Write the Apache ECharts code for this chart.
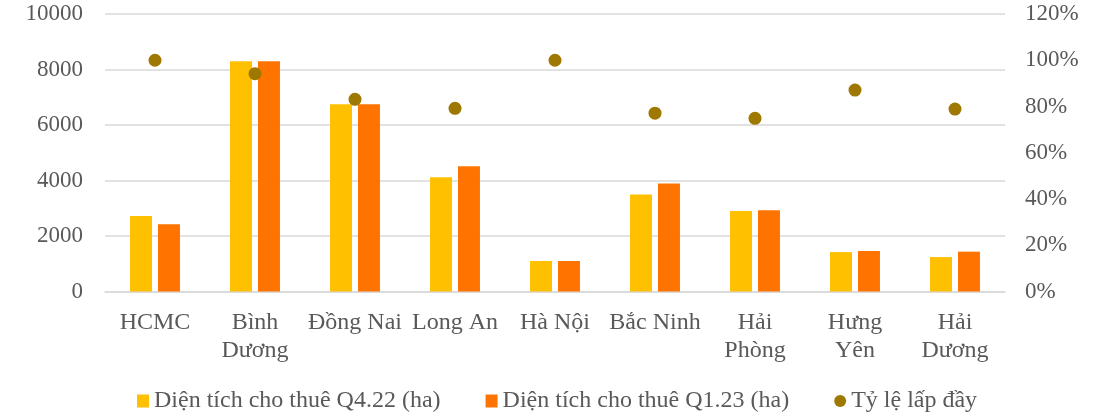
<!DOCTYPE html>
<html>
<head>
<meta charset="utf-8">
<script src="https://cdn.jsdelivr.net/npm/echarts@6/dist/echarts.min.js"></script>
<style>html,body{margin:0;padding:0;background:#fff}#c{width:1100px;height:416px}</style>
</head>
<body>
<div id="c"></div>
<script>
const categories = ['HCMC', 'Bình Dương', 'Đồng Nai', 'Long An', 'Hà Nội', 'Bắc Ninh', 'Hải Phòng', 'Hưng Yên', 'Hải Dương'];
const areaQ422 = [2720, 8300, 6750, 4120, 1100, 3500, 2900, 1420, 1240];
const areaQ123 = [2420, 8300, 6750, 4510, 1100, 3890, 2925, 1460, 1435];
const occupancy = [100, 94.2, 83.1, 79.2, 100, 77.1, 74.9, 87.1, 78.9];
const leftTicks = {min: 0, max: 10000, interval: 2000};
const rightTicks = {min: 0, max: 120, interval: 20};
const seriesNames = ['Diện tích cho thuê Q4.22 (ha)', 'Diện tích cho thuê Q1.23 (ha)', 'Tỷ lệ lấp đầy'];

const FONT = 'Liberation Serif';
const TXT = '#595959';
const CAT_FONT = 24;
const WRAP_WIDTH = 97;
const ctx = document.createElement('canvas').getContext('2d');
ctx.font = CAT_FONT + 'px "' + FONT + '"';
function wrapLabel(v) {
  return ctx.measureText(v).width > WRAP_WIDTH ? v.replace(' ', '\n') : v;
}

const chart = echarts.init(document.getElementById('c'), null, {renderer: 'canvas'});
chart.setOption({
  animation: false,
  textStyle: {fontFamily: FONT, color: TXT},
  grid: {left: 105, right: 95, top: 14, bottom: 124.5, containLabel: false},
  legend: {
    left: 137, top: 389, padding: 0,
    itemWidth: 12, itemHeight: 13, itemGap: 45,
    textStyle: {fontFamily: FONT, fontSize: 24, color: TXT},
    data: [
      {name: seriesNames[0], icon: 'rect'},
      {name: seriesNames[1], icon: 'rect'},
      {name: seriesNames[2], icon: 'circle'}
    ]
  },
  xAxis: {
    type: 'category',
    data: categories,
    axisLine: {show: true, lineStyle: {color: '#d9d9d9', width: 1.5}},
    axisTick: {show: false},
    axisLabel: {
      interval: 0, margin: 17, fontFamily: FONT, fontSize: CAT_FONT, color: TXT,
      lineHeight: 28, align: 'center', formatter: wrapLabel
    }
  },
  yAxis: [
    {
      type: 'value', min: leftTicks.min, max: leftTicks.max, interval: leftTicks.interval,
      axisLine: {show: false}, axisTick: {show: false},
      axisLabel: {margin: 22, fontFamily: FONT, fontSize: 23, color: TXT, formatter: v => String(v)},
      splitLine: {lineStyle: {color: '#d9d9d9', width: 1.5}}
    },
    {
      type: 'value', min: rightTicks.min, max: rightTicks.max, interval: rightTicks.interval,
      axisLine: {show: false}, axisTick: {show: false},
      axisLabel: {margin: 20, fontFamily: FONT, fontSize: 23, color: TXT, formatter: '{value}%'},
      splitLine: {show: false}
    }
  ],
  series: [
    {name: seriesNames[0], type: 'bar', data: areaQ422, barWidth: 22, barGap: '27%',
     itemStyle: {color: '#FFC000'}},
    {name: seriesNames[1], type: 'bar', data: areaQ123, barWidth: 22, barGap: '27%',
     itemStyle: {color: '#FF7400'}},
    {name: seriesNames[2], type: 'scatter', yAxisIndex: 1, data: occupancy, symbolSize: 13,
     itemStyle: {color: '#9E7800', opacity: 1}, z: 5}
  ]
});
</script>
</body>
</html>
